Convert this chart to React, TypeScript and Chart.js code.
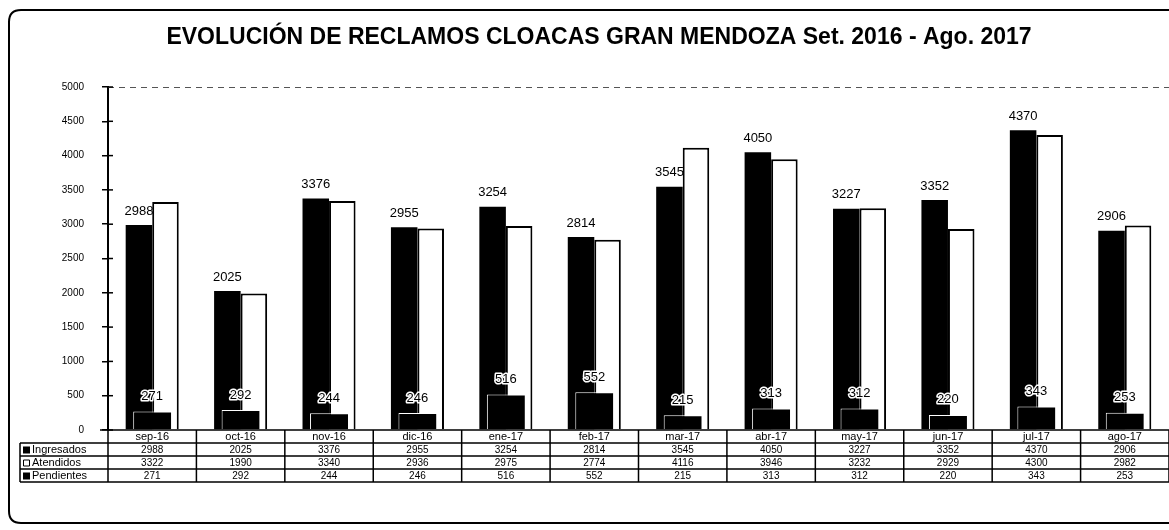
import React, { useEffect, useRef } from "react";
import { Chart, registerables } from "chart.js";

Chart.register(...registerables);

const title = "EVOLUCIÓN DE RECLAMOS CLOACAS GRAN MENDOZA Set. 2016 - Ago. 2017";
const categories = ["sep-16", "oct-16", "nov-16", "dic-16", "ene-17", "feb-17", "mar-17", "abr-17", "may-17", "jun-17", "jul-17", "ago-17"];
const ingresados = [2988, 2025, 3376, 2955, 3254, 2814, 3545, 4050, 3227, 3352, 4370, 2906];
const atendidos = [3322, 1990, 3340, 2936, 2975, 2774, 4116, 3946, 3232, 2929, 4300, 2982];
const pendientes = [271, 292, 244, 246, 516, 552, 215, 313, 312, 220, 343, 253];
const seriesNames = ["Ingresados", "Atendidos", "Pendientes"];
const yTicks = [0, 500, 1000, 1500, 2000, 2500, 3000, 3500, 4000, 4500, 5000];

const FONT = "'Liberation Sans', Arial, sans-serif";

const decorPlugin = {
  id: "decor",
  beforeDraw(chart: any) {
    const ctx = chart.ctx;
    ctx.save();
    ctx.fillStyle = "#ffffff";
    ctx.fillRect(0, 0, chart.width, chart.height);
    ctx.strokeStyle = "#000";
    ctx.lineWidth = 2;
    const x0 = 9, y0 = 10, x1 = 1180, y1 = 523, r = 12;
    ctx.beginPath();
    ctx.moveTo(x1, y0);
    ctx.lineTo(x0 + r, y0);
    ctx.quadraticCurveTo(x0, y0, x0, y0 + r);
    ctx.lineTo(x0, y1 - r);
    ctx.quadraticCurveTo(x0, y1, x0 + r, y1);
    ctx.lineTo(x1, y1);
    ctx.stroke();
    ctx.fillStyle = "#000";
    ctx.font = `bold 23px ${FONT}`;
    ctx.textAlign = "center";
    ctx.textBaseline = "middle";
    ctx.fillText(title, 599, 38);
    ctx.restore();
  },
  afterDatasetsDraw(chart: any) {
    const ctx = chart.ctx;
    const area = chart.chartArea;
    const y = chart.scales.y;
    const x = chart.scales.x;
    ctx.save();
    const yTop = y.getPixelForValue(yTicks[yTicks.length - 1]);
    ctx.strokeStyle = "#555";
    ctx.lineWidth = 1;
    ctx.setLineDash([6, 5]);
    ctx.beginPath();
    ctx.moveTo(area.left, yTop + 0.5);
    ctx.lineTo(area.right, yTop + 0.5);
    ctx.stroke();
    ctx.setLineDash([]);
    ctx.strokeStyle = "#000";
    ctx.lineWidth = 1.5;
    yTicks.forEach((v) => {
      const py = y.getPixelForValue(v);
      ctx.beginPath();
      ctx.moveTo(area.left, py);
      ctx.lineTo(area.left + 5, py);
      ctx.stroke();
    });

    const metaI = chart.getDatasetMeta(1);
    const metaP = chart.getDatasetMeta(0);
    ctx.font = `13px ${FONT}`;
    ctx.textAlign = "center";
    ctx.textBaseline = "middle";
    ctx.fillStyle = "#000";
    metaI.data.forEach((bar: any, i: number) => {
      ctx.fillText(String(ingresados[i]), bar.x, bar.y - 14);
    });
    ctx.lineJoin = "round";
    metaP.data.forEach((bar: any, i: number) => {
      ctx.strokeStyle = "#fff";
      ctx.lineWidth = 3;
      ctx.strokeText(String(pendientes[i]), bar.x, bar.y - 15);
      ctx.fillText(String(pendientes[i]), bar.x, bar.y - 15);
    });

    const n = categories.length;
    const colW = (area.right - area.left) / n;
    const top = area.bottom;
    const rowH = [13, 13, 13, 13];
    const rowY = [top, top + 13, top + 26, top + 39, top + 52];
    const labelLeft = 20;
    ctx.strokeStyle = "#000";
    ctx.lineWidth = 1.5;
    ctx.beginPath();
    ctx.moveTo(area.left - 8, rowY[0]);
    ctx.lineTo(chart.width, rowY[0]);
    for (let r = 1; r < rowY.length; r++) {
      ctx.moveTo(labelLeft, rowY[r]);
      ctx.lineTo(chart.width, rowY[r]);
    }
    ctx.moveTo(labelLeft, rowY[1]);
    ctx.lineTo(labelLeft, rowY[4]);
    for (let c = 0; c <= n; c++) {
      const px = area.left + c * colW;
      ctx.moveTo(px, rowY[0]);
      ctx.lineTo(px, rowY[4]);
    }
    ctx.stroke();

    ctx.fillStyle = "#000";
    ctx.textAlign = "center";
    ctx.textBaseline = "middle";
    categories.forEach((cat, i) => {
      const cx = x.getPixelForValue(i);
      ctx.font = `11px ${FONT}`;
      ctx.fillText(cat, cx, rowY[0] + rowH[0] / 2 + 0.5);
      ctx.font = `10px ${FONT}`;
      ctx.fillText(String(ingresados[i]), cx, rowY[1] + rowH[1] / 2 + 1);
      ctx.fillText(String(atendidos[i]), cx, rowY[2] + rowH[2] / 2 + 1);
      ctx.fillText(String(pendientes[i]), cx, rowY[3] + rowH[3] / 2 + 1);
    });
    ctx.textAlign = "left";
    ctx.font = `11px ${FONT}`;
    seriesNames.forEach((name, r) => {
      const cy = rowY[r + 1] + 6.5;
      ctx.lineWidth = 1;
      ctx.strokeStyle = "#000";
      if (r === 1) {
        ctx.fillStyle = "#fff";
        ctx.fillRect(23, cy - 3, 6, 6);
        ctx.strokeRect(23.5, cy - 2.5, 6, 6);
      } else {
        ctx.fillStyle = "#000";
        ctx.fillRect(23, cy - 3, 7, 7);
      }
      ctx.fillStyle = "#000";
      ctx.fillText(name, 32, cy + 0.5);
    });
    ctx.restore();
  },
};

export default function App() {
  const ref = useRef<HTMLCanvasElement | null>(null);
  useEffect(() => {
    document.body.style.margin = "0";
    const canvas = ref.current!;
    const chart = new Chart(canvas, {
      type: "bar",
      data: {
        labels: categories,
        datasets: [
          {
            label: seriesNames[2],
            data: pendientes,
            grouped: false,
            backgroundColor: "#000",
            borderColor: "#fff",
            borderWidth: { top: 1, left: 1, right: 0, bottom: 0 },
            categoryPercentage: 0.43,
            barPercentage: 1,
            order: -1,
          },
          {
            label: seriesNames[0],
            data: ingresados,
            backgroundColor: "#000",
            borderColor: "#000",
            borderWidth: 0,
            categoryPercentage: 0.6,
            barPercentage: 1,
            order: 1,
          },
          {
            label: seriesNames[1],
            data: atendidos,
            backgroundColor: "#fff",
            borderColor: "#000",
            borderWidth: 2,
            categoryPercentage: 0.6,
            barPercentage: 1,
            order: 1,
          },
        ],
      },
      options: {
        responsive: false,
        animation: false,
        devicePixelRatio: 1,
        layout: { padding: { left: 0, right: 0, top: 87, bottom: 100 } },
        plugins: {
          legend: { display: false },
          title: { display: false },
          tooltip: { enabled: false },
        },
        scales: {
          x: { display: false, offset: true, grid: { display: false }, ticks: { autoSkip: false } },
          y: {
            min: 0,
            max: 5000,
            afterFit: (scale: any) => {
              scale.width = 108;
            },
            ticks: {
              stepSize: 500,
              color: "#000",
              font: { family: FONT, size: 10 },
              padding: 18,
              callback: (v: any) => String(v),
            },
            border: { display: true, color: "#000", width: 2 },
            grid: { drawOnChartArea: false, drawTicks: true, tickLength: 6, color: "#000", lineWidth: 1.5 },
          },
        },
      },
      plugins: [decorPlugin],
    } as any);
    return () => chart.destroy();
  }, []);
  return (
    <div style={{ width: 1169, height: 530 }}>
      <canvas ref={ref} width={1169} height={530} style={{ display: "block" }} />
    </div>
  );
}
